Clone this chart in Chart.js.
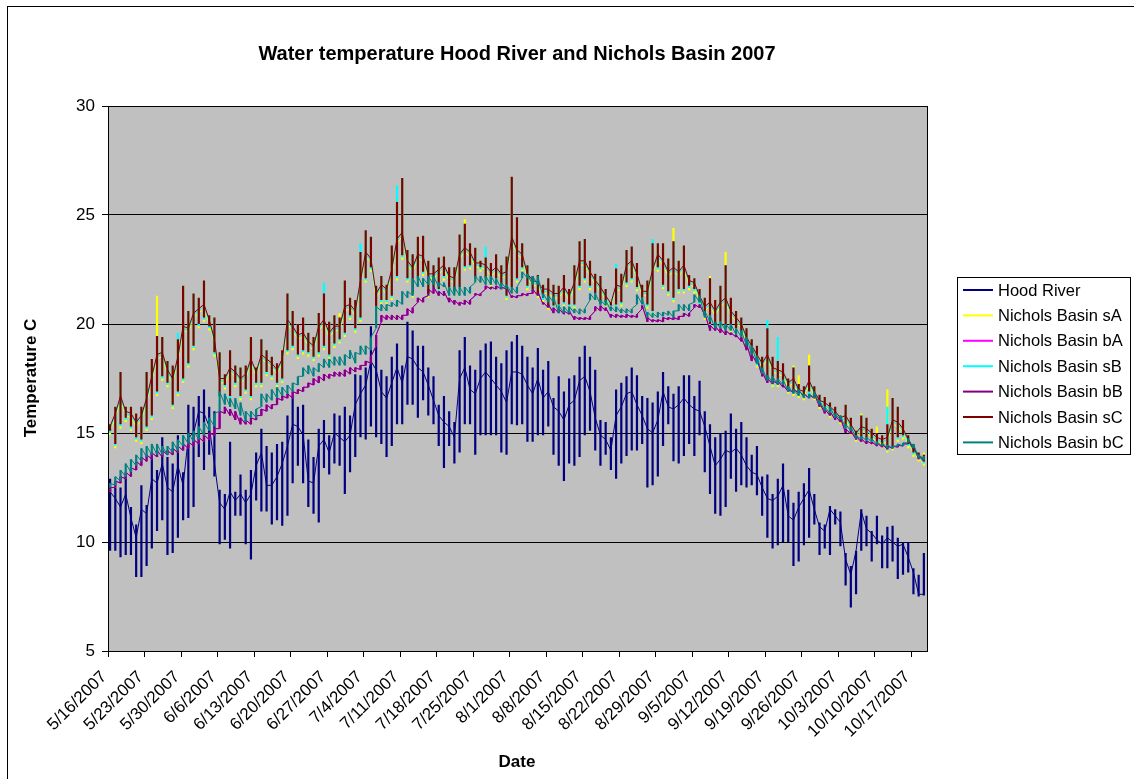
<!DOCTYPE html>
<html>
<head>
<meta charset="utf-8">
<script src="https://cdn.jsdelivr.net/npm/chart.js@4.4.0/dist/chart.umd.min.js"></script>
<style>
  html, body { margin: 0; padding: 0; background: #fff; }
  #wrap { width: 1134px; height: 779px; }
</style>
</head>
<body>
<div id="wrap"><canvas id="chart" width="1134" height="779"></canvas></div>
<script>
// day index 0 = 5/16/2007, one label per week
const tickDays = [0, 7, 14, 21, 28, 35, 42, 49, 56, 63, 70, 77, 84, 91, 98, 105, 112, 119, 126, 133, 140, 147, 154];
const tickLabels = ["5/16/2007", "5/23/2007", "5/30/2007", "6/6/2007", "6/13/2007", "6/20/2007", "6/27/2007",
  "7/4/2007", "7/11/2007", "7/18/2007", "7/25/2007", "8/1/2007", "8/8/2007", "8/15/2007", "8/22/2007",
  "8/29/2007", "9/5/2007", "9/12/2007", "9/19/2007", "9/26/2007", "10/3/2007", "10/10/2007", "10/17/2007"];
const yTicks = [5, 10, 15, 20, 25, 30];

// daily min / max / evening level (deg C)
const hoodLo = [
  9.6,9.6,9.3,9.4,9.4,8.4,8.4,8.9,9.7,10.5,
  11.0,9.4,9.5,10.2,11.0,11.1,11.6,13.9,13.3,14.0,
  13.0,9.9,10.1,9.7,11.2,11.2,9.9,9.2,11.9,11.4,
  11.4,10.8,11.0,10.75,11.2,12.7,13.5,12.7,11.6,11.3,
  10.9,13.4,13.1,13.6,13.5,12.2,13.2,13.9,14.8,14.7,
  15.3,14.8,14.5,13.9,14.4,15.4,15.4,16.3,16.3,15.7,
  16.5,15.8,15.4,14.4,13.4,14.4,13.6,14.1,15.4,15.4,
  14.0,14.9,14.9,14.9,14.9,14.1,14.0,15.4,15.35,15.4,
  14.6,14.6,14.9,14.9,15.3,14.0,13.5,12.8,13.6,13.5,
  13.9,14.9,15.1,14.2,13.5,14.0,13.3,12.9,13.6,13.95,
  14.2,14.2,14.5,12.5,12.6,13.0,14.4,15.4,13.7,13.6,
  13.95,14.5,13.95,14.9,13.2,12.2,11.3,11.2,11.6,12.9,
  12.3,12.6,12.5,12.6,12.15,11.2,10.2,9.7,9.85,10.0,
  10.0,8.9,9.1,9.85,10.2,10.8,9.4,9.7,9.4,10.8,
  9.8,8.0,7.0,7.6,9.6,9.8,9.1,9.9,8.8,8.8,
  9.1,8.3,8.5,8.6,7.6,7.5,7.55];
const hoodHi = [
  12.9,12.5,12.5,13.0,11.6,10.8,12.6,11.7,14.1,13.3,
  14.8,13.9,13.6,14.9,13.2,16.3,16.2,16.7,17.0,16.2,
  16.0,12.4,12.2,14.6,12.3,13.1,12.4,13.3,14.1,15.2,
  14.4,14.1,14.5,14.6,15.8,16.7,16.2,16.3,14.7,13.9,
  15.2,15.6,14.9,15.9,15.8,16.2,15.8,17.7,17.65,18.0,
  19.9,19.0,17.9,17.6,18.5,19.1,18.1,20.1,19.7,19.0,
  19.0,18.0,17.6,16.3,16.7,16.0,15.5,18.8,19.4,18.1,
  17.9,18.8,19.1,19.2,18.5,18.2,18.8,19.2,19.5,19.0,
  18.5,18.0,18.9,17.9,18.3,16.6,17.6,16.9,17.5,17.65,
  18.5,19.0,18.5,17.9,15.6,15.5,14.8,17.0,17.3,17.6,
  18.0,17.65,16.7,16.6,16.4,16.9,17.8,17.15,16.8,17.15,
  17.65,17.65,16.7,17.4,16.0,15.4,14.8,15.0,15.1,15.9,
  15.2,15.5,14.8,14.0,14.4,13.0,13.1,12.2,12.9,13.6,
  12.4,11.8,12.3,12.7,13.4,12.2,10.9,10.8,11.65,11.5,
  11.4,9.5,8.9,9.6,11.5,11.2,10.5,11.2,10.3,10.7,
  10.75,10.2,10.0,10.0,8.8,8.5,9.5];
const hoodEve = [
  12.3,12.0,11.6,12.2,11.1,10.2,11.5,11.3,12.9,12.7,
  13.6,12.5,12.3,13.5,12.6,14.8,15.0,16.0,15.9,15.3,
  13.6,11.8,11.5,12.3,11.9,12.2,11.8,12.2,13.5,14.1,
  12.6,12.6,13.0,13.6,14.4,15.4,15.3,14.9,12.8,12.7,
  14.4,14.7,14.1,15.0,14.8,14.6,14.9,16.3,16.8,17.2,
  18.3,17.9,16.9,16.6,17.3,18.0,17.3,18.5,18.4,18.0,
  17.8,17.2,16.5,15.8,15.5,15.3,14.8,17.5,18.0,17.0,
  16.8,17.5,17.8,17.5,17.2,16.9,16.4,17.8,17.8,17.7,
  17.2,16.8,17.5,16.6,16.9,16.2,16.0,15.6,16.3,16.5,
  17.4,17.6,16.9,15.7,14.9,14.7,14.2,15.8,16.2,16.8,
  16.9,16.3,15.8,15.2,15.0,15.6,16.9,16.2,16.1,16.3,
  16.6,16.3,16.1,16.0,15.3,14.4,13.5,13.8,14.2,14.1,
  14.3,14.0,13.5,13.2,13.1,12.5,12.0,11.9,12.1,12.6,
  11.2,11.0,11.6,12.0,12.4,11.5,10.7,10.5,11.5,11.2,
  10.9,9.2,8.5,9.6,11.4,10.6,10.4,10.1,9.9,10.2,
  10.0,9.8,9.9,9.3,8.6,7.6,7.6];

const sALo = [
  14.9,14.3,15.2,15.5,15.1,14.6,14.5,15.1,15.6,16.7,
  17.4,17.1,16.1,16.7,17.3,18.0,18.8,19.8,20.1,19.7,
  18.5,16.5,17.0,16.5,17.1,16.5,16.8,16.5,17.1,17.1,
  17.6,17.45,17.1,17.3,18.6,18.8,18.4,18.6,18.5,18.3,
  18.5,18.8,18.4,18.9,19.1,19.4,20.2,19.6,20.1,21.9,
  22.4,20.6,20.9,20.9,21.1,22.0,22.95,21.9,21.2,21.9,
  22.2,21.2,21.5,21.4,22.0,21.5,21.3,21.5,22.45,22.5,
  21.9,22.4,21.9,21.7,21.9,21.6,21.1,21.5,21.9,22.4,
  21.55,21.4,21.2,21.0,20.65,20.65,20.7,20.8,20.7,20.7,
  21.55,21.9,21.55,21.2,20.7,20.8,20.65,20.7,20.8,21.7,
  21.9,21.5,21.0,20.7,20.4,22.4,21.6,21.3,21.0,21.4,
  21.4,21.55,21.4,20.8,20.2,19.8,19.7,19.9,19.6,19.6,
  19.6,19.4,18.8,18.4,18.0,17.6,17.3,17.1,17.1,17.2,
  16.8,16.7,16.6,16.5,16.7,16.5,16.1,16.0,15.7,15.6,
  15.4,15.15,14.9,14.6,14.6,14.5,14.5,14.4,14.3,14.1,
  14.2,14.6,14.7,14.3,13.9,13.7,13.5];
const sAHi = [
  15.4,16.2,17.8,16.2,16.2,15.9,16.2,17.8,18.4,21.3,
  19.4,18.3,18.1,19.3,21.75,20.6,21.4,21.2,22.0,20.4,
  20.3,18.7,17.7,18.8,18.1,18.0,18.1,19.4,18.0,19.3,
  18.8,18.5,18.2,18.8,21.4,20.6,20.0,20.3,19.6,19.4,
  20.5,21.4,20.1,20.4,20.5,22.0,21.2,21.1,23.3,24.3,
  24.0,21.75,22.2,21.8,23.6,25.6,26.7,23.4,23.2,24.0,
  24.05,22.9,22.7,23.05,23.1,22.6,22.6,24.1,24.8,23.7,
  23.5,22.9,23.05,22.8,23.2,22.7,23.1,26.75,24.9,23.7,
  22.7,22.2,22.25,21.8,22.1,21.8,21.75,22.25,21.6,22.7,
  23.8,23.9,22.9,22.3,22.2,21.6,21.0,22.55,22.3,23.4,
  23.55,22.8,21.8,22.0,23.7,23.7,23.7,23.0,24.4,22.9,
  23.6,22.25,22.1,21.6,21.2,22.2,21.1,21.75,23.3,21.2,
  20.6,20.3,19.8,19.3,19.0,18.5,19.8,18.5,18.3,18.2,
  17.5,18.1,17.65,17.15,18.6,17.15,16.75,16.65,16.4,16.2,
  15.8,16.3,15.7,15.1,15.9,15.7,15.2,15.3,14.9,17.0,
  16.6,16.2,15.6,14.9,14.5,14.1,14.1];
const sAEve = [
  15.1,15.7,16.5,15.8,15.7,15.3,15.6,16.4,17.4,18.4,
  18.5,17.7,17.3,18.3,19.7,19.6,20.3,20.5,20.7,20.0,
  19.1,17.3,17.3,17.8,17.6,17.3,17.5,18.2,17.6,18.4,
  18.2,18.0,17.7,18.2,20.0,19.7,19.3,19.4,19.0,18.8,
  19.7,20.0,19.4,19.7,19.7,20.6,20.7,20.4,21.8,23.1,
  22.8,21.2,21.6,21.4,22.3,23.7,24.0,22.7,22.4,23.0,
  22.9,22.1,22.1,22.3,22.5,22.0,21.9,23.0,23.3,23.1,
  22.6,22.6,22.5,22.2,22.4,22.1,22.2,23.8,23.2,23.0,
  22.1,21.8,21.7,21.4,21.4,21.2,21.2,21.5,21.1,21.7,
  22.7,22.7,22.2,21.8,21.5,21.1,20.8,21.6,21.5,22.5,
  22.7,22.1,21.3,21.3,22.3,23.0,22.7,22.2,22.4,22.2,
  22.5,21.8,21.7,21.1,20.6,20.8,20.4,20.8,21.0,20.4,
  20.1,19.8,19.2,18.8,18.4,18.0,18.4,17.8,17.7,17.6,
  17.1,17.3,16.8,16.7,17.2,16.7,16.3,16.2,16.0,15.8,
  15.5,15.6,15.2,14.8,15.1,15.0,14.8,14.6,14.5,14.6,
  15.4,15.3,15.0,14.5,14.1,13.8,13.6];

const sBLo = [
  15.0,14.4,15.3,15.6,15.2,14.7,14.6,15.2,15.7,16.8,
  17.5,17.2,16.2,16.8,17.4,18.1,18.9,19.9,20.2,19.8,
  18.6,16.6,17.1,16.6,17.2,16.6,16.9,16.6,17.2,17.2,
  17.7,17.55,17.2,17.4,18.7,18.9,18.5,18.7,18.6,18.4,
  18.6,18.9,18.5,19.0,19.2,19.5,20.3,19.7,20.2,22.0,
  22.5,20.7,21.0,21.0,21.2,22.1,23.05,22.0,21.3,22.0,
  22.3,21.3,21.6,21.5,22.1,21.6,21.4,21.6,22.55,22.6,
  22.0,22.5,22.0,21.8,22.0,21.7,21.2,21.6,22.0,22.5,
  21.65,21.5,21.3,21.1,20.75,20.75,20.8,20.9,20.8,20.8,
  21.65,22.0,21.65,21.3,20.8,20.9,20.75,20.8,20.9,21.8,
  22.0,21.6,21.1,20.8,20.5,22.5,21.7,21.4,21.1,21.5,
  21.5,21.65,21.5,20.9,20.3,19.9,19.8,20.0,19.7,19.7,
  19.7,19.5,18.9,18.5,18.1,17.7,17.4,17.2,17.2,17.3,
  16.9,16.8,16.7,16.6,16.8,16.6,16.2,16.1,15.8,15.7,
  15.5,15.25,15.0,14.7,14.7,14.6,14.6,14.5,14.4,14.2,
  14.3,14.7,14.8,14.4,14.0,13.8,13.6];
const sBHi = [
  15.4,16.2,17.8,16.2,16.2,15.9,16.2,17.8,18.4,19.45,
  19.4,18.3,18.1,19.6,21.75,20.6,21.4,21.2,22.0,20.4,
  20.3,18.7,17.7,18.8,18.1,18.0,18.1,19.4,18.0,19.3,
  18.8,18.5,18.2,18.8,21.4,20.6,20.0,20.3,19.6,19.4,
  20.5,21.9,20.1,20.4,20.3,22.0,21.2,21.1,23.7,24.3,
  24.0,21.75,22.2,21.8,23.6,26.35,26.7,23.4,23.2,24.0,
  24.05,22.9,22.7,23.05,23.1,22.6,22.6,24.1,24.6,23.7,
  23.5,22.9,23.55,22.8,23.2,22.7,23.1,26.75,24.9,23.7,
  22.7,22.2,22.25,21.8,22.1,21.8,21.75,22.25,21.6,22.7,
  23.8,23.9,22.9,22.3,22.2,21.6,21.0,22.75,22.3,23.4,
  23.55,22.8,21.8,22.0,23.9,23.7,23.7,23.0,23.8,22.9,
  23.6,22.25,22.1,21.6,21.2,22.1,21.1,21.75,22.7,21.2,
  20.6,20.3,19.8,19.3,19.0,18.5,20.2,18.5,19.4,18.2,
  17.5,18.0,17.25,17.15,18.1,17.15,16.75,16.65,16.4,16.2,
  15.8,16.3,15.7,15.1,15.8,15.7,15.2,15.0,14.9,16.2,
  16.6,16.2,15.6,14.9,14.5,14.1,14.0];
const sBEve = [
  15.2,15.8,16.6,15.9,15.8,15.4,15.7,16.5,17.5,18.5,
  18.6,17.8,17.4,18.4,19.8,19.7,20.4,20.6,20.8,20.1,
  19.2,17.4,17.4,17.9,17.7,17.4,17.6,18.3,17.7,18.5,
  18.3,18.1,17.8,18.3,20.1,19.8,19.4,19.5,19.1,18.9,
  19.8,20.1,19.5,19.8,19.8,20.7,20.8,20.5,21.9,23.2,
  22.9,21.3,21.7,21.5,22.4,23.8,24.1,22.8,22.5,23.1,
  23.0,22.2,22.2,22.4,22.6,22.1,22.0,23.1,23.4,23.2,
  22.7,22.7,22.6,22.3,22.5,22.2,22.3,23.9,23.3,23.1,
  22.2,21.9,21.8,21.5,21.5,21.3,21.3,21.6,21.2,21.8,
  22.8,22.8,22.3,21.9,21.6,21.2,20.85,21.7,21.6,22.6,
  22.8,22.2,21.4,21.4,22.4,23.1,22.8,22.3,22.5,22.3,
  22.6,21.9,21.8,21.2,20.7,20.9,20.5,20.9,21.1,20.5,
  20.2,19.9,19.3,18.9,18.5,18.1,18.5,17.9,17.8,17.7,
  17.2,17.4,16.9,16.8,17.3,16.8,16.4,16.3,16.1,15.9,
  15.6,15.7,15.3,14.9,15.2,15.1,14.9,14.7,14.6,14.7,
  15.5,15.4,15.1,14.6,14.2,13.9,13.7];

const sCLo = [
  15.1,14.5,15.4,15.7,15.3,14.8,14.7,15.3,15.8,16.9,
  17.6,17.3,16.3,16.9,17.5,18.2,19.0,20.0,20.3,19.9,
  18.7,16.7,17.2,16.7,17.3,16.7,17.0,16.7,17.3,17.3,
  17.8,17.65,17.3,17.5,18.8,19.0,18.6,18.8,18.7,18.5,
  18.7,19.0,18.6,19.1,19.3,19.6,20.4,19.8,20.3,22.1,
  22.6,20.8,21.1,21.1,21.3,22.2,23.15,22.1,21.4,22.1,
  22.4,21.4,21.7,21.6,22.2,21.7,21.5,21.7,22.65,22.7,
  22.1,22.6,22.1,21.9,22.1,21.8,21.3,21.7,22.1,22.6,
  21.75,21.6,21.4,21.2,20.85,20.85,20.9,21.0,20.9,20.9,
  21.75,22.1,21.75,21.4,20.9,21.0,20.85,20.9,21.0,21.9,
  22.1,21.7,21.2,20.9,20.6,22.6,21.8,21.5,21.2,21.6,
  21.6,21.75,21.6,21.0,20.4,20.0,19.9,20.1,19.8,19.8,
  19.8,19.6,19.0,18.6,18.2,17.8,17.5,17.3,17.3,17.4,
  17.0,16.9,16.8,16.7,16.9,16.7,16.3,16.2,15.9,15.8,
  15.6,15.35,15.1,14.8,14.8,14.7,14.7,14.6,14.5,14.3,
  14.4,14.8,14.9,14.5,14.1,13.9,13.7];
const sCHi = [
  15.4,16.2,17.8,16.2,16.2,15.9,16.2,17.8,18.4,19.45,
  19.4,18.3,18.1,19.3,21.75,20.6,21.4,21.2,22.0,20.4,
  20.3,18.7,17.7,18.8,18.1,18.0,18.1,19.4,18.0,19.3,
  18.8,18.5,18.2,18.8,21.4,20.6,20.0,20.3,19.6,19.4,
  20.5,21.4,20.1,20.4,20.3,22.0,21.2,21.1,23.3,24.3,
  24.0,21.75,22.2,21.8,23.6,25.6,26.7,23.4,23.2,24.0,
  24.05,22.9,22.7,23.05,23.1,22.6,22.6,24.1,24.6,23.7,
  23.5,22.9,23.05,22.8,23.2,22.7,23.1,26.75,24.9,23.7,
  22.7,22.2,22.25,21.8,22.1,21.8,21.75,22.25,21.6,22.7,
  23.8,23.9,22.9,22.3,22.2,21.6,21.0,22.55,22.3,23.4,
  23.55,22.8,21.8,22.0,23.7,23.7,23.7,23.0,23.8,22.9,
  23.6,22.25,22.1,21.6,21.2,22.1,21.1,21.75,22.7,21.2,
  20.6,20.3,19.8,19.3,19.0,18.5,19.8,18.5,18.3,18.2,
  17.5,18.0,17.25,17.15,18.1,17.15,16.75,16.65,16.4,16.2,
  15.8,16.3,15.7,15.1,15.8,15.7,15.2,15.0,14.9,15.4,
  16.6,16.2,15.6,14.9,14.5,14.1,14.0];
const sCEve = [
  15.3,15.9,16.7,16.0,15.9,15.5,15.8,16.6,17.6,18.6,
  18.7,17.9,17.5,18.5,19.9,19.8,20.5,20.7,20.9,20.2,
  19.3,17.5,17.5,18.0,17.8,17.5,17.7,18.4,17.8,18.6,
  18.4,18.2,17.9,18.4,20.2,19.9,19.5,19.6,19.2,19.0,
  19.9,20.2,19.6,19.9,19.9,20.8,20.9,20.6,22.0,23.3,
  23.0,21.4,21.8,21.6,22.5,23.9,24.2,22.9,22.6,23.2,
  23.1,22.3,22.3,22.5,22.7,22.2,22.1,23.2,23.5,23.3,
  22.8,22.8,22.7,22.4,22.6,22.3,22.4,24.0,23.4,23.2,
  22.3,22.0,21.9,21.6,21.6,21.4,21.4,21.7,21.3,21.9,
  22.9,22.9,22.4,22.0,21.7,21.3,20.95,21.8,21.7,22.7,
  22.9,22.3,21.5,21.5,22.5,23.2,22.9,22.4,22.6,22.4,
  22.7,22.0,21.9,21.3,20.8,21.0,20.6,21.0,21.2,20.6,
  20.3,20.0,19.4,19.0,18.6,18.2,18.6,18.0,17.9,17.8,
  17.3,17.5,17.0,16.9,17.4,16.9,16.5,16.4,16.2,16.0,
  15.7,15.8,15.4,15.0,15.3,15.2,15.0,14.8,14.7,14.8,
  15.6,15.5,15.2,14.7,14.3,14.0,13.8];

const bALo = [
  12.3,12.5,12.7,12.9,13.0,13.3,13.5,13.7,13.8,13.9,
  13.9,14.0,14.0,14.1,14.2,14.3,14.4,14.5,14.6,14.7,
  14.9,15.2,15.9,15.8,15.6,15.4,15.4,15.4,15.6,15.8,
  16.0,16.1,16.3,16.5,16.6,16.6,16.8,16.9,17.1,17.2,
  17.3,17.4,17.5,17.6,17.6,17.6,17.7,17.8,17.9,18.1,
  18.2,19.0,20.1,20.2,20.2,20.2,20.2,20.4,20.5,21.0,
  21.0,21.3,21.4,21.3,21.3,21.0,20.9,20.85,20.9,20.9,
  21.3,21.3,21.6,21.6,21.6,21.6,21.6,21.2,21.2,21.3,
  21.3,21.4,21.3,20.9,20.75,20.5,20.5,20.45,20.45,20.2,
  20.2,20.2,20.2,20.6,20.6,20.6,20.3,20.3,20.3,20.3,
  20.3,20.3,20.7,20.1,20.1,20.1,20.1,20.2,20.2,20.2,
  20.35,20.35,20.75,20.75,20.4,19.7,19.7,19.6,19.5,19.5,
  19.4,19.2,18.8,18.3,18.2,17.6,17.3,17.25,17.25,17.1,
  16.9,16.85,16.85,16.7,16.6,16.6,16.2,15.9,15.8,15.6,
  15.5,15.0,14.95,14.7,14.6,14.5,14.5,14.4,14.35,14.25,
  14.3,14.35,14.4,14.5,14.25,13.8,13.7];
const bAHi = [
  12.5,12.8,13.0,13.2,13.4,13.7,13.9,14.0,14.1,14.2,
  14.2,14.2,14.3,14.4,14.5,14.6,14.7,14.8,14.9,15.0,
  15.2,16.0,16.2,16.1,16.0,15.7,15.6,15.7,15.8,16.1,
  16.3,16.3,16.6,16.7,16.8,16.9,17.0,17.1,17.3,17.5,
  17.6,17.7,17.7,17.8,17.8,17.9,18.0,18.0,18.1,18.3,
  18.5,19.5,20.4,20.4,20.4,20.4,20.4,20.7,20.75,21.2,
  21.2,21.6,21.7,21.5,21.5,21.2,21.1,21.0,21.1,21.1,
  21.4,21.4,21.75,21.7,21.75,21.7,21.7,21.3,21.3,21.4,
  21.4,21.6,21.5,21.0,20.9,20.75,20.7,20.6,20.6,20.35,
  20.3,20.3,20.35,20.8,20.85,20.75,20.45,20.45,20.4,20.45,
  20.4,20.45,20.85,20.3,20.2,20.2,20.3,20.3,20.3,20.35,
  20.5,20.5,20.9,20.9,20.5,19.95,19.9,19.8,19.7,19.6,
  19.5,19.4,19.1,18.6,18.4,17.8,17.5,17.4,17.4,17.2,
  17.0,17.0,16.95,16.8,16.75,16.8,16.4,16.1,16.0,15.8,
  15.7,15.2,15.1,14.85,14.75,14.65,14.6,14.55,14.5,14.4,
  14.4,14.45,14.5,14.65,14.4,13.95,13.85];

const bBLo = [
  12.3,12.5,12.7,12.9,13.0,13.3,13.5,13.7,13.8,13.9,
  13.9,14.0,14.0,14.1,14.2,14.3,14.4,14.5,14.6,14.7,
  14.9,15.2,15.9,15.8,15.6,15.4,15.4,15.4,15.6,15.8,
  16.0,16.1,16.3,16.5,16.6,16.6,16.8,16.9,17.1,17.2,
  17.3,17.4,17.5,17.6,17.6,17.6,17.7,17.8,17.9,18.1,
  18.2,19.0,20.1,20.2,20.2,20.2,20.2,20.4,20.5,21.0,
  21.0,21.3,21.4,21.3,21.3,21.0,20.9,20.85,20.9,20.9,
  21.3,21.3,21.6,21.6,21.6,21.6,21.6,21.2,21.2,21.3,
  21.3,21.4,21.3,20.9,20.75,20.5,20.5,20.45,20.45,20.2,
  20.2,20.2,20.2,20.6,20.6,20.6,20.3,20.3,20.3,20.3,
  20.3,20.3,20.7,20.1,20.1,20.1,20.1,20.2,20.2,20.2,
  20.35,20.35,20.75,20.75,20.4,19.7,19.7,19.6,19.5,19.5,
  19.4,19.2,18.8,18.3,18.2,17.6,17.3,17.25,17.25,17.1,
  16.9,16.85,16.85,16.7,16.6,16.6,16.2,15.9,15.8,15.6,
  15.5,15.0,14.95,14.7,14.6,14.5,14.5,14.4,14.35,14.25,
  14.3,14.35,14.4,14.5,14.25,13.8,13.7];
const bBHi = [
  12.5,12.8,13.0,13.2,13.4,13.7,13.9,14.0,14.1,14.2,
  14.2,14.2,14.3,14.4,14.5,14.6,14.7,14.8,14.9,15.0,
  15.2,16.0,16.2,16.1,16.0,15.7,15.6,15.7,15.8,16.1,
  16.3,16.3,16.6,16.7,16.8,16.9,17.0,17.1,17.3,17.5,
  17.6,17.7,17.7,17.8,17.8,17.9,18.0,18.0,18.1,18.3,
  18.5,19.5,20.4,20.4,20.4,20.4,20.4,20.7,20.75,21.2,
  21.2,21.6,21.7,21.5,21.5,21.2,21.1,21.0,21.1,21.1,
  21.4,21.4,21.75,21.7,21.75,21.7,21.7,21.3,21.3,21.4,
  21.4,21.6,21.5,21.0,20.9,20.75,20.7,20.6,20.6,20.35,
  20.3,20.3,20.35,20.8,20.85,20.75,20.45,20.45,20.4,20.45,
  20.4,20.45,20.85,20.3,20.2,20.2,20.3,20.3,20.3,20.35,
  20.5,20.5,20.9,20.9,20.5,19.95,19.9,19.8,19.7,19.6,
  19.5,19.4,19.1,18.6,18.4,17.8,17.5,17.4,17.4,17.2,
  17.0,17.0,16.95,16.8,16.75,16.8,16.4,16.1,16.0,15.8,
  15.7,15.2,15.1,14.85,14.75,14.65,14.6,14.55,14.5,14.4,
  14.4,14.45,14.5,14.65,14.4,13.95,13.85];

const bCLo = [
  12.5,12.6,12.8,13.0,13.2,13.5,13.7,13.9,14.0,14.0,
  14.0,14.0,14.1,14.2,14.4,14.5,14.6,14.7,14.9,15.1,
  15.3,16.0,16.3,16.2,16.1,15.8,15.5,15.7,15.7,16.2,
  16.4,16.5,16.6,16.7,16.8,16.9,17.2,17.6,17.7,17.6,
  17.8,18.0,18.0,18.1,18.1,18.1,18.4,18.2,18.6,18.6,
  18.8,19.8,20.6,20.6,20.8,20.8,20.9,21.2,21.3,21.7,
  21.7,21.8,21.8,21.7,21.7,21.3,21.3,21.3,21.3,21.4,
  21.9,21.9,21.8,21.8,21.8,21.6,21.6,21.4,21.4,22.1,
  22.1,21.8,21.8,21.2,21.0,21.0,20.5,20.5,20.5,20.5,
  20.45,20.5,21.1,21.1,20.9,20.85,20.6,20.55,20.5,20.5,
  20.5,20.9,20.9,20.3,20.3,20.3,20.35,20.4,20.3,20.6,
  20.6,20.6,21.0,21.0,20.3,20.1,19.8,19.8,19.7,19.7,
  19.5,19.4,19.0,18.6,18.2,17.7,17.4,17.3,17.2,17.2,
  16.9,16.8,16.7,16.6,16.6,16.6,16.3,16.0,15.9,15.7,
  15.6,15.2,15.1,14.75,14.7,14.65,14.6,14.45,14.4,14.3,
  14.3,14.4,14.4,14.55,14.3,13.85,13.75];
const bCHi = [
  12.7,13.0,13.3,13.6,13.8,14.0,14.3,14.4,14.5,14.5,
  14.4,14.4,14.6,14.7,14.9,15.0,15.1,15.3,15.5,15.7,
  15.9,16.9,16.8,16.6,16.6,16.4,16.0,16.0,16.1,16.8,
  16.8,17.0,17.1,17.1,17.2,17.3,17.6,18.0,18.1,18.0,
  18.2,18.4,18.4,18.5,18.5,18.6,18.8,18.7,19.0,19.0,
  19.4,20.8,20.9,20.9,21.0,21.1,21.5,21.5,22.1,22.2,
  22.1,22.2,22.2,21.9,21.9,21.7,21.7,21.7,21.7,21.7,
  22.2,22.2,22.2,22.2,22.1,21.9,21.8,21.7,21.7,22.4,
  22.3,22.2,22.2,21.4,21.3,21.25,20.85,20.8,20.8,20.7,
  20.7,20.7,21.4,21.4,21.1,21.1,20.8,20.8,20.7,20.7,
  20.7,21.35,21.2,20.55,20.5,20.55,20.55,20.6,20.6,20.9,
  20.9,20.9,21.35,21.3,20.6,20.4,20.1,20.1,20.0,20.0,
  19.8,19.7,19.4,19.0,18.55,18.0,17.65,17.6,17.5,17.45,
  17.15,17.0,17.0,16.8,16.8,16.9,16.5,16.2,16.2,15.9,
  15.8,15.4,15.3,14.9,14.85,14.8,14.75,14.6,14.55,14.45,
  14.4,14.5,14.55,14.75,14.5,14.0,13.95];

const FONT = '"Liberation Sans", Arial, sans-serif';
const DAY_OFFSET = 0.4; // readings of a day share one x position

// all readings of one day sit on the same x, so each day is a vertical stroke
function dayPoints(lo, hi, eve) {
  const pts = [];
  lo.forEach((v, d) => {
    const x = d + DAY_OFFSET;
    if (eve) {
      pts.push({ x, y: eve[d] }, { x, y: v }, { x, y: hi[d] }, { x, y: eve[d] });
    } else {
      pts.push({ x, y: v }, { x, y: hi[d] });
    }
  });
  return pts;
}

const series = [
  { label: "Hood River", color: "#000080", data: dayPoints(hoodLo, hoodHi, hoodEve), order: 7 },
  { label: "Nichols Basin sA", color: "#FFFF00", data: dayPoints(sALo, sAHi, sAEve), order: 6 },
  { label: "Nichols Basin bA", color: "#FF00FF", data: dayPoints(bALo, bAHi), order: 5 },
  { label: "Nichols Basin sB", color: "#00FFFF", data: dayPoints(sBLo, sBHi, sBEve), order: 4 },
  { label: "Nichols Basin bB", color: "#800080", data: dayPoints(bBLo, bBHi), order: 3 },
  { label: "Nichols Basin sC", color: "#800000", data: dayPoints(sCLo, sCHi, sCEve), order: 2 },
  { label: "Nichols Basin bC", color: "#008080", data: dayPoints(bCLo, bCHi), order: 1 }
];

const excelFrame = {
  id: "excelFrame",
  beforeDraw(chart) {
    const { ctx, chartArea: a } = chart;
    ctx.save();
    ctx.fillStyle = "#ffffff";
    ctx.fillRect(0, 0, chart.width, chart.height);
    ctx.fillStyle = "#C0C0C0";
    ctx.fillRect(a.left, a.top, a.right - a.left, a.bottom - a.top);
    ctx.restore();
  },
  afterDraw(chart) {
    const { ctx, chartArea: a } = chart;
    ctx.save();
    // outer chart border (only left/top fall inside the picture)
    ctx.strokeStyle = "#000";
    ctx.lineWidth = 1;
    ctx.strokeRect(7.5, 6.5, 1140, 790);
    // plot area border
    ctx.strokeRect(Math.round(a.left) + 0.5, Math.round(a.top) + 0.5,
      Math.round(a.right - a.left), Math.round(a.bottom - a.top));

    ctx.fillStyle = "#000";
    ctx.textAlign = "center";
    ctx.textBaseline = "middle";
    ctx.font = "bold 20px " + FONT;
    ctx.fillText("Water temperature Hood River and Nichols Basin 2007", 517, 54);
    ctx.font = "bold 17px " + FONT;
    ctx.fillText("Date", 517, 762);
    ctx.save();
    ctx.translate(31, 378);
    ctx.rotate(-Math.PI / 2);
    ctx.fillText("Temperature C", 0, 0);
    ctx.restore();

    // legend box
    ctx.fillStyle = "#fff";
    ctx.fillRect(957.5, 277.5, 173, 177);
    ctx.strokeRect(957.5, 277.5, 173, 177);
    ctx.font = "16.5px " + FONT;
    ctx.textAlign = "left";
    series.forEach((s, i) => {
      const y = 290 + i * 25.4;
      ctx.strokeStyle = s.color;
      ctx.lineWidth = 2;
      ctx.beginPath();
      ctx.moveTo(963, y);
      ctx.lineTo(993, y);
      ctx.stroke();
      ctx.fillStyle = "#000";
      ctx.fillText(s.label, 998, y + 1);
    });
    ctx.restore();
  }
};

// vertical (same-day) strokes are bolder than the day-to-day joins
const segWidth = c => (c.p0.parsed.x === c.p1.parsed.x ? 2.2 : 1);

new Chart(document.getElementById("chart"), {
  type: "line",
  data: {
    datasets: series.map(s => ({
      label: s.label,
      data: s.data,
      borderColor: s.color,
      backgroundColor: s.color,
      borderWidth: 1.5,
      segment: { borderWidth: segWidth },
      pointRadius: 0,
      tension: 0,
      fill: false,
      order: s.order
    }))
  },
  options: {
    responsive: false,
    animation: false,
    devicePixelRatio: 1,
    layout: { padding: { left: 0, right: 207, top: 106, bottom: 0 } },
    plugins: {
      legend: { display: false },
      title: { display: false },
      tooltip: { enabled: false }
    },
    scales: {
      x: {
        type: "linear",
        min: 0,
        max: 157,
        afterBuildTicks: scale => { scale.ticks = tickDays.map(v => ({ value: v })); },
        afterFit: scale => { scale.height = 128; },
        ticks: {
          autoSkip: false,
          maxRotation: 45,
          minRotation: 45,
          padding: 10,
          labelOffset: -4,
          color: "#000",
          font: { family: FONT, size: 17 },
          callback: (v, i) => tickLabels[i]
        },
        grid: { drawOnChartArea: false, drawTicks: true, tickLength: 6, color: "#000" },
        border: { display: true, color: "#000" }
      },
      y: {
        min: 5,
        max: 30,
        afterBuildTicks: scale => { scale.ticks = yTicks.map(v => ({ value: v })); },
        afterFit: scale => { scale.width = 108; },
        ticks: {
          padding: 7,
          color: "#000",
          font: { family: FONT, size: 17 }
        },
        grid: { color: "#000", lineWidth: 1, tickLength: 6 },
        border: { display: true, color: "#000" }
      }
    }
  },
  plugins: [excelFrame]
});
</script>
</body>
</html>
